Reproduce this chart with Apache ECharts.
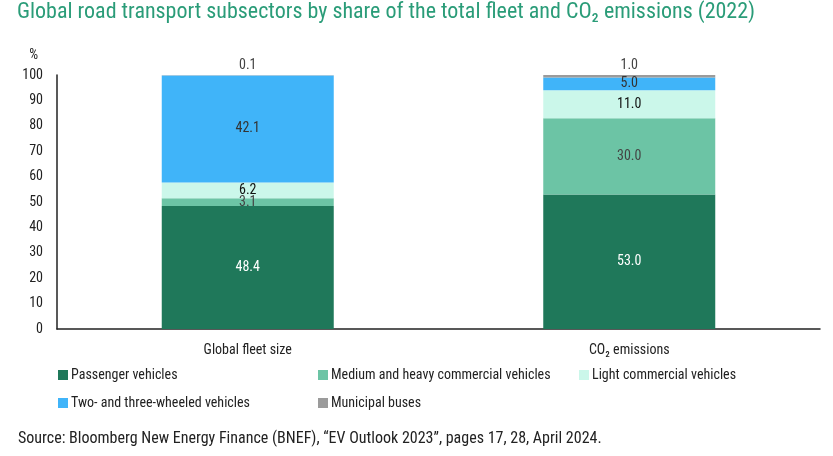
<!DOCTYPE html>
<html>
<head>
<meta charset="utf-8">
<script src="https://cdn.jsdelivr.net/npm/echarts@6/dist/echarts.min.js"></script>
<style>
  html, body { margin: 0; padding: 0; background: #fff; }
  #chart { width: 833px; height: 456px; }
</style>
</head>
<body>
<div id="chart"></div>
<script>
const categories = ['Global fleet size', 'CO\u2082 emissions']
const passenger = [48.4, 53.0]
const mediumHeavy = [3.1, 30.0]
const lightCommercial = [6.2, 11.0]
const twoThreeWheeled = [42.1, 5.0]
const municipalBuses = [0.1, 1.0]
const yTicks = [0, 10, 20, 30, 40, 50, 60, 70, 80, 90, 100]

const FONT = "'Roboto Condensed', 'Liberation Sans Narrow', sans-serif"

const chart = echarts.init(document.getElementById('chart'))

const seriesDefs = [
  { name: 'Passenger vehicles', data: passenger, color: '#1f785a', labelColor: '#fff', pos: 'inside' },
  { name: 'Medium and heavy commercial vehicles', data: mediumHeavy, color: '#6cc4a5', labelColor: '#444', pos: 'inside' },
  { name: 'Light commercial vehicles', data: lightCommercial, color: '#cbf7ea', labelColor: '#111', pos: 'inside' },
  { name: 'Two- and three-wheeled vehicles', data: twoThreeWheeled, color: '#40b4f9', labelColor: '#333', pos: 'inside' },
  { name: 'Municipal buses', data: municipalBuses, color: '#9b9b9b', labelColor: '#444', pos: 'top' }
]

const legendPos = [
  { left: 58, top: 368 },
  { left: 318, top: 368 },
  { left: 579, top: 368 },
  { left: 58, top: 396 },
  { left: 318, top: 396 }
]

const option = {
  animation: false,
  textStyle: { fontFamily: FONT },
  title: {
    text: 'Global road transport subsectors by share of the total fleet and CO\u2082 emissions (2022)',
    left: 17,
    top: 1,
    padding: 0,
    textStyle: { color: '#2a9c78', fontSize: 22, fontWeight: 'normal', fontFamily: FONT }
  },
  graphic: [
    {
      type: 'text',
      left: 18,
      top: 431,
      style: {
        text: 'Source: Bloomberg New Energy Finance (BNEF), \u201cEV Outlook 2023\u201d, pages 17, 28, April 2024.',
        fill: '#222',
        font: '16px ' + FONT
      }
    }
  ],
  legend: seriesDefs.map((s, i) => ({
    data: [s.name],
    left: legendPos[i].left,
    top: legendPos[i].top,
    padding: 0,
    itemWidth: 10,
    itemHeight: 10,
    icon: 'rect',
    selectedMode: false,
    textStyle: { color: '#222', fontSize: 14, fontFamily: FONT, padding: [0, 0, 0, -2] }
  })),
  grid: { left: 57, right: 13, top: 75, bottom: 127 },
  xAxis: {
    type: 'category',
    data: categories,
    axisLine: { lineStyle: { color: '#222', width: 1.5 } },
    axisTick: { show: false },
    axisLabel: { color: '#222', fontSize: 14, margin: 14, fontFamily: FONT }
  },
  yAxis: {
    type: 'value',
    min: 0,
    max: 100,
    interval: 10,
    name: '%',
    nameLocation: 'end',
    nameGap: 13,
    nameTextStyle: { color: '#222', fontSize: 14, align: 'right', padding: [0, 19, 0, 0] },
    axisLine: { show: true, lineStyle: { color: '#222', width: 1.5 } },
    axisTick: { show: false },
    splitLine: { show: false },
    axisLabel: {
      color: '#222',
      fontSize: 14,
      margin: 14,
      fontFamily: FONT,
      formatter: v => (yTicks.includes(v) ? String(v) : '')
    }
  },
  series: seriesDefs.map(s => ({
    name: s.name,
    type: 'bar',
    stack: 'total',
    barWidth: 172,
    data: s.data,
    itemStyle: { color: s.color },
    label: {
      show: true,
      position: s.pos,
      distance: 3,
      color: s.labelColor,
      fontSize: 14,
      fontFamily: FONT,
      formatter: p => p.value.toFixed(1)
    }
  }))
}

chart.setOption(option)
</script>
</body>
</html>
